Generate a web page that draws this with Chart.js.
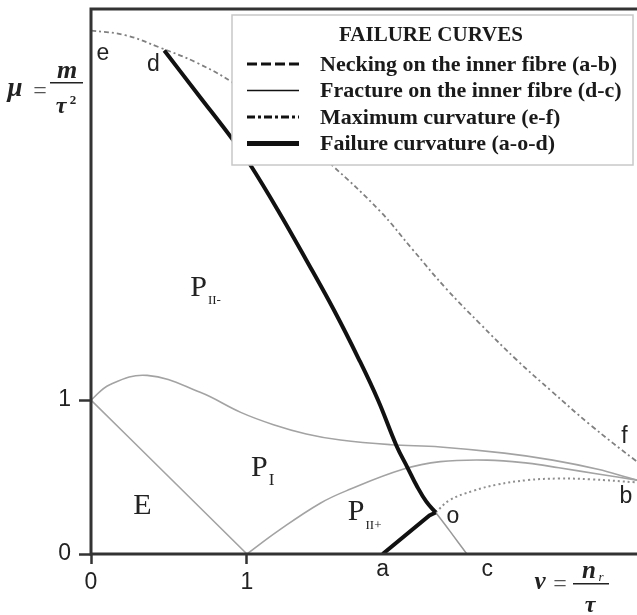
<!DOCTYPE html>
<html>
<head>
<meta charset="utf-8">
<script src="https://cdn.jsdelivr.net/npm/chart.js@4.4.0/dist/chart.umd.min.js"></script>
<style>
html, body { margin: 0; padding: 0; background: #fff; overflow: hidden; }
#wrap { width: 640px; height: 615px; }
</style>
</head>
<body>
<div id="wrap"><canvas id="canvas" width="640" height="615"></canvas></div>
<script>
// axis ticks
var xTicks = [0, 1];
var yTicks = [0, 1];

// maximum curvature (e-f)
var maxCurvX = [0, 0.22, 0.44, 0.68, 0.91, 1.2, 1.54, 1.85, 2.06, 2.28, 2.49, 2.73, 2.95, 3.2, 3.5, 3.56];
var maxCurvY = [3.40, 3.37, 3.29, 3.19, 3.06, 2.83, 2.53, 2.23, 1.98, 1.72, 1.50, 1.26, 1.06, 0.84, 0.60, 0.56];

// failure curvature, d -> o part and o -> a part
var failureX = [0.47, 0.69, 0.91, 1.02, 1.2, 1.38, 1.56, 1.72, 1.84, 1.96, 2.03, 2.09, 2.15, 2.21];
var failureY = [3.27, 2.98, 2.69, 2.53, 2.23, 1.91, 1.58, 1.26, 1.0, 0.70, 0.56, 0.44, 0.34, 0.27];
var failureTailX = [1.87, 2.17, 2.21];
var failureTailY = [0, 0.25, 0.27];

// fracture on the inner fibre (d-c)
var fractureX = [0.47, 0.69, 0.91, 1.02, 1.2, 1.38, 1.56, 1.72, 1.84, 1.96, 2.03, 2.09, 2.15, 2.21, 2.3, 2.41];
var fractureY = [3.27, 2.98, 2.69, 2.53, 2.23, 1.91, 1.58, 1.26, 1.0, 0.70, 0.56, 0.44, 0.34, 0.27, 0.15, 0];

// necking on the inner fibre (o-b part)
var neckX = [2.21, 2.3, 2.45, 2.6, 2.8, 3.0, 3.2, 3.5, 3.56];
var neckY = [0.27, 0.35, 0.41, 0.45, 0.48, 0.49, 0.485, 0.465, 0.46];

// region boundaries
var upperX = [0, 0.12, 0.36, 0.7, 0.96, 1.17, 1.38, 1.6, 1.92, 2.24, 2.65, 2.96, 3.25, 3.5, 3.56];
var upperY = [1.0, 1.1, 1.16, 1.05, 0.92, 0.84, 0.78, 0.74, 0.71, 0.695, 0.655, 0.61, 0.55, 0.48, 0.47];
var elasticX = [0, 0.5, 1];
var elasticY = [1, 0.5, 0];
var lowerX = [1, 1.2, 1.47, 1.66, 2.0, 2.24, 2.54, 2.8, 3.0, 3.25, 3.5, 3.56];
var lowerY = [0, 0.15, 0.33, 0.42, 0.55, 0.60, 0.61, 0.59, 0.56, 0.52, 0.48, 0.47];

// letters on the curves
var pointText = ['e', 'd', 'f', 'b', 'o', 'a', 'c'];
var pointTextX = [0.077, 0.40, 3.42, 3.43, 2.32, 1.87, 2.54];
var pointTextY = [3.25, 3.18, 0.76, 0.37, 0.24, -0.10, -0.10];

// region names
var regionText = ['E', 'P', 'P', 'P'];
var regionSub = ['', 'I', 'II-', 'II+'];
var regionX = [0.33, 1.08, 0.69, 1.70];
var regionY = [0.31, 0.56, 1.73, 0.27];

var SERIF = "'Liberation Serif', 'DejaVu Serif', serif";
var SANS = "'Liberation Sans', Arial, sans-serif";

function pts(xs, ys) {
	return xs.map(function(x, i) { return { x: x, y: ys[i] }; });
}

var framePlugin = {
	id: 'frame',
	afterDatasetsDraw: function(chart) {
		var a = chart.chartArea, c = chart.ctx;
		c.save();
		c.strokeStyle = '#333';
		c.lineWidth = 3;
		c.strokeRect(a.left, a.top, a.right - a.left + 10, a.bottom - a.top);
		c.restore();
	}
};

var legendBox = {
	id: 'legendBox',
	afterDatasetsDraw: function(chart) {
		var c = chart.ctx;
		var bx = 232, by = 15, bw = 401, bh = 150;
		c.save();
		c.fillStyle = '#fff';
		c.fillRect(bx, by, bw, bh);
		c.strokeStyle = '#c8c8c8';
		c.lineWidth = 1.5;
		c.strokeRect(bx, by, bw, bh);
		c.fillStyle = '#1a1a1a';
		c.textBaseline = 'middle';
		c.textAlign = 'center';
		c.font = 'bold 21px ' + SERIF;
		c.fillText('FAILURE CURVES', 431, 36);
		c.textAlign = 'left';
		c.font = 'bold 22px ' + SERIF;
		var row = 0;
		chart.data.datasets.forEach(function(ds) {
			if (!ds.label) return;
			var y = 64 + row * 26.5;
			c.beginPath();
			c.setLineDash(ds.legendDash || []);
			c.lineWidth = ds.legendWidth;
			c.strokeStyle = '#111';
			c.moveTo(247, y);
			c.lineTo(299, y);
			c.stroke();
			c.setLineDash([]);
			c.fillText(ds.label, 320, y + 1);
			row++;
		});
		c.restore();
	}
};

var textPlugin = {
	id: 'texts',
	afterDraw: function(chart) {
		var c = chart.ctx, xs = chart.scales.x, ys = chart.scales.y;
		c.save();
		c.fillStyle = '#222';
		c.textAlign = 'center';
		c.textBaseline = 'middle';
		c.font = '23px ' + SANS;
		pointText.forEach(function(t, i) {
			c.fillText(t, xs.getPixelForValue(pointTextX[i]), ys.getPixelForValue(pointTextY[i]));
		});
		regionText.forEach(function(t, i) {
			var px = xs.getPixelForValue(regionX[i]), py = ys.getPixelForValue(regionY[i]);
			c.textAlign = 'center';
			c.font = '30px ' + SERIF;
			c.fillText(t, px, py);
			if (regionSub[i]) {
				var w = c.measureText(t).width;
				c.textAlign = 'left';
				c.font = (regionSub[i] === 'I' ? '17px ' : '13px ') + SERIF;
				c.fillText(regionSub[i], px + w / 2 + 1, py + 13);
			}
		});
		// y axis title  mu = m / tau^2
		c.textAlign = 'center';
		c.textBaseline = 'alphabetic';
		c.font = 'bold italic 27px ' + SERIF;
		c.fillText('\u03bc', 15, 96);
		c.font = '24px ' + SERIF;
		c.fillStyle = '#555';
		c.fillText('=', 40, 98);
		c.fillStyle = '#222';
		c.font = 'bold italic 26px ' + SERIF;
		c.fillText('m', 67, 78);
		c.font = 'bold italic 24px ' + SERIF;
		c.fillText('\u03c4', 61, 113);
		c.font = 'bold 13px ' + SERIF;
		c.fillText('2', 73, 104);
		c.fillRect(50, 82, 33, 1.5);
		// x axis title  nu = n_r / tau
		c.font = 'bold italic 25px ' + SERIF;
		c.fillText('\u03bd', 540, 589);
		c.font = '24px ' + SERIF;
		c.fillStyle = '#555';
		c.fillText('=', 560, 591);
		c.fillStyle = '#222';
		c.font = 'bold italic 25px ' + SERIF;
		c.fillText('n', 589, 578);
		c.font = 'italic 13px ' + SERIF;
		c.fillText('r', 601, 581);
		c.font = 'bold italic 24px ' + SERIF;
		c.fillText('\u03c4', 590, 612);
		c.fillRect(573, 583, 36, 1.5);
		c.restore();
	}
};

var GRAY = '#a3a3a3';

function curve(extra) {
	var d = { tension: 0.4, pointRadius: 0, fill: false, showLine: true };
	for (var k in extra) d[k] = extra[k];
	return d;
}

var ctx = document.getElementById('canvas').getContext('2d');
window.myChart = new Chart(ctx, {
	type: 'scatter',
	data: {
		datasets: [curve({
			label: 'Necking on the inner fibre (a-b)',
			data: pts(neckX, neckY),
			borderColor: '#8f8f8f',
			borderWidth: 2,
			borderDash: [2, 3],
			legendDash: [10, 4],
			legendWidth: 3,
			order: 0
		}), curve({
			label: 'Fracture on the inner fibre (d-c)',
			data: pts(fractureX, fractureY),
			borderColor: '#999',
			borderWidth: 1.5,
			legendWidth: 1.5,
			order: 0
		}), curve({
			label: 'Maximum curvature (e-f)',
			data: pts(maxCurvX, maxCurvY),
			borderColor: '#808080',
			borderWidth: 1.8,
			borderDash: [5, 3, 2, 3],
			legendDash: [8, 3, 3, 3],
			legendWidth: 3,
			order: 0
		}), curve({
			label: 'Failure curvature (a-o-d)',
			data: pts(failureX, failureY),
			borderColor: '#111',
			borderWidth: 4,
			legendWidth: 5,
			order: -1
		}), curve({
			data: pts(failureTailX, failureTailY),
			borderColor: '#111',
			borderWidth: 4,
			tension: 0,
			order: -1
		}), curve({
			data: pts(upperX, upperY),
			borderColor: GRAY,
			borderWidth: 1.6,
			order: 1
		}), curve({
			data: pts(elasticX, elasticY),
			borderColor: GRAY,
			borderWidth: 1.6,
			order: 1
		}), curve({
			data: pts(lowerX, lowerY),
			borderColor: GRAY,
			borderWidth: 1.6,
			order: 1
		})]
	},
	options: {
		responsive: false,
		animation: false,
		events: [],
		layout: { padding: { top: 9, left: 0, right: 0, bottom: 0 } },
		plugins: {
			legend: { display: false },
			tooltip: { enabled: false }
		},
		scales: {
			x: {
				type: 'linear',
				min: 0,
				max: 3.52,
				afterBuildTicks: function(s) { s.ticks = xTicks.map(function(v) { return { value: v }; }); },
				afterFit: function(s) { s.height = 61; s.paddingLeft = 0; s.paddingRight = 0; },
				border: { display: false },
				grid: { drawOnChartArea: false, drawTicks: true, tickLength: 10, tickColor: '#333', tickWidth: 2.5 },
				ticks: { color: '#222', padding: 5, font: { family: SANS, size: 23 } }
			},
			y: {
				type: 'linear',
				min: 0,
				max: 3.54,
				afterBuildTicks: function(s) { s.ticks = yTicks.map(function(v) { return { value: v }; }); },
				afterFit: function(s) { s.width = 91; s.paddingTop = 0; s.paddingBottom = 0; },
				border: { display: false },
				grid: { drawOnChartArea: false, drawTicks: true, tickLength: 12, tickColor: '#333', tickWidth: 2.5 },
				ticks: { color: '#222', padding: 8, font: { family: SANS, size: 23 } }
			}
		}
	},
	plugins: [framePlugin, legendBox, textPlugin]
});
</script>
</body>
</html>
